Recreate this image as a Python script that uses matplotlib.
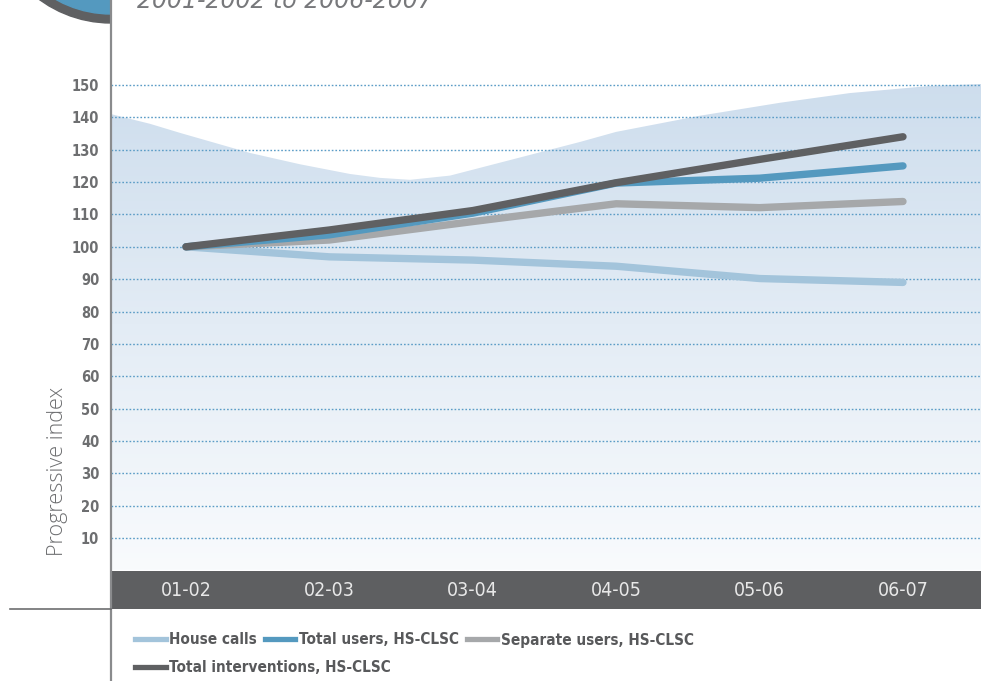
import matplotlib
matplotlib.use('Agg')
import matplotlib.pyplot as plt
import numpy as np
from matplotlib.colors import LinearSegmentedColormap
from matplotlib.lines import Line2D
from matplotlib.patches import Wedge

# data
periods = ['01-02', '02-03', '03-04', '04-05', '05-06', '06-07']
house_calls = [100, 96.9, 95.9, 94, 90.2, 89]
total_users = [100, 103.7, 110.4, 119.7, 121.2, 125]
separate_users = [100, 102.1, 107.8, 113.3, 112.1, 114]
total_interventions = [100, 105.2, 111.2, 119.8, 127, 134]

# decorative background wave (x in category units)
wave_x = [-0.523, -0.251, -0.042, 0.446, 0.795, 1.144, 1.353, 1.562, 1.841,
          2.190, 2.748, 2.999, 3.584, 4.142, 4.630, 5.188, 5.544]
wave_top = [141, 138, 135.2, 129, 125.5, 122.5, 121.3, 120.7, 122,
            126, 132.4, 135.5, 140.5, 144.5, 147.5, 149.7, 150.3]

col_house = '#a3c4db'
col_users = '#5499bf'
col_sep = '#a6a8aa'
col_int = '#5f6062'
txt_gray = '#6d6e70'

W, H = 981, 681
fig = plt.figure(figsize=(W / 100, H / 100), dpi=100)

xmin, xmax = -0.523, 5.544
ax = fig.add_axes([111 / W, (H - 570.5) / H, (W - 111) / W, 517.9 / H])
ax.set_facecolor('white')

# gradient fill under the wave
x = np.arange(len(periods))
poly = ax.fill_between(wave_x, 0, wave_top, facecolor='none', edgecolor='none')
cmap = LinearSegmentedColormap.from_list('bg', ['#f9fbfd', '#cddded'])
grad = np.linspace(0, 1, 256).reshape(-1, 1)
im = ax.imshow(grad, extent=(xmin, xmax, 0, 152), aspect='auto',
               origin='lower', cmap=cmap, zorder=0)
im.set_clip_path(poly.get_paths()[0], transform=ax.transData)

ax.set_xlim(xmin, xmax)
ax.set_ylim(0, 160)
ax.set_yticks(range(10, 151, 10))
ax.set_xticks([])
ax.yaxis.grid(True, color='#5b9cc6', linestyle=(0, (1.2, 1.4)), linewidth=1.0, zorder=1)
ax.set_axisbelow(False)
for s in ax.spines.values():
    s.set_visible(False)
ax.tick_params(axis='y', length=0, pad=8.5, labelsize=10.5, labelcolor=txt_gray)
for lab in ax.get_yticklabels():
    lab.set_fontweight('bold')
    lab.set_fontstretch('condensed')

lw = 5.3
ax.plot(x, house_calls, color=col_house, lw=lw, solid_capstyle='round', zorder=3)
ax.plot(x, separate_users, color=col_sep, lw=lw, solid_capstyle='round', zorder=4)
ax.plot(x, total_users, color=col_users, lw=lw, solid_capstyle='round', zorder=5)
ax.plot(x, total_interventions, color=col_int, lw=lw, solid_capstyle='round', zorder=6)

ax.set_ylabel('Progressive index', fontsize=15.5, color='#6d6e70',
              fontfamily='Open Sans', fontweight='light')
ax.yaxis.set_label_coords(-0.05, 0.192)

# dark category band
band = fig.add_axes([111 / W, (H - 609) / H, (W - 111) / W, 38.5 / H])
band.set_facecolor('#5e5f61')
band.set_xlim(xmin, xmax)
band.set_ylim(0, 1)
band.set_xticks([])
band.set_yticks([])
for s in band.spines.values():
    s.set_visible(False)
for i, p in enumerate(periods):
    band.text(i, 0.47, p, color='#e8e8e8', fontsize=14, ha='center', va='center',
              fontstretch='condensed')

# legend
handles = [Line2D([], [], color=c, lw=3.8) for c in (col_house, col_users, col_sep)]
leg1 = fig.legend(handles, ['House calls', 'Total users, HS-CLSC', 'Separate users, HS-CLSC'],
                  loc='center left', bbox_to_anchor=(135 / W, 1 - 640 / H), ncol=3,
                  frameon=False, borderpad=0, borderaxespad=0, handlelength=2.0,
                  handletextpad=0.25, columnspacing=0.5,
                  prop={'size': 11, 'weight': 'bold', 'stretch': 'condensed'})
leg2 = fig.legend([Line2D([], [], color=col_int, lw=3.8)], ['Total interventions, HS-CLSC'],
                  loc='center left', bbox_to_anchor=(135 / W, 1 - 668 / H),
                  frameon=False, borderpad=0, borderaxespad=0, handlelength=2.0,
                  handletextpad=0.25,
                  prop={'size': 11, 'weight': 'bold', 'stretch': 'condensed'})
for leg in (leg1, leg2):
    for t in leg.get_texts():
        t.set_color('#58595b')

# frame decorations in pixel space
deco = fig.add_axes([0, 0, 1, 1], zorder=10)
deco.set_xlim(0, W)
deco.set_ylim(H, 0)
deco.axis('off')
deco.patch.set_alpha(0)
deco.add_patch(Wedge((111, -98), 121, 90, 270, color=col_int))
deco.add_patch(Wedge((111, -98), 112, 90, 270, color=col_users))
deco.plot([111, 111], [0, H], color='#8a8b8d', lw=1.6)
deco.plot([10, 111], [609, 609], color='#6d6e70', lw=1.2)

fig.text(137 / W, 1 - 8.5 / H, '2001-2002 to 2006-2007', fontsize=17, style='italic',
         color='#77787b', va='baseline', ha='left')

fig.savefig('out.png', dpi=100)
